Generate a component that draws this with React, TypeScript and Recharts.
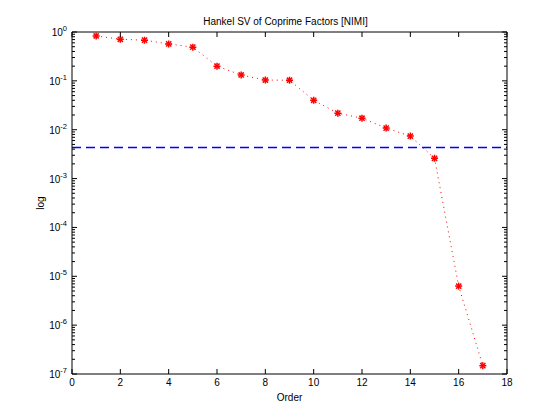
import { LineChart, Line, XAxis, YAxis, ReferenceLine, Label } from 'recharts';

const chartTitle = 'Hankel SV of Coprime Factors [NIMI]';
const orders = [1, 2, 3, 4, 5, 6, 7, 8, 9, 10, 11, 12, 13, 14, 15, 16, 17];
const hankelSV = [
  0.83, 0.71, 0.68, 0.57, 0.49, 0.2, 0.132, 0.104, 0.103, 0.04, 0.0218, 0.0172, 0.0108, 0.0074,
  0.0026, 6.3e-6, 1.48e-7,
];
const threshold = 0.0043;
const xTicks = [0, 2, 4, 6, 8, 10, 12, 14, 16, 18];
const decades = [1e-7, 1e-6, 1e-5, 1e-4, 1e-3, 1e-2, 1e-1, 1];
const minorSteps = [2, 3, 4, 5, 6, 7, 8, 9];

const yTicks: number[] = [];
decades.forEach((d, i) => {
  yTicks.push(d);
  if (i < decades.length - 1) minorSteps.forEach((m) => yTicks.push(d * m));
});

const data = orders.map((o, i) => ({ order: o, sv: hankelSV[i] }));

const FONT = '"Liberation Sans", Arial, Helvetica, sans-serif';
const FS = 10;
const RED = '#ff0000';
const BLUE = '#0000ff';

function isDecade(v: number) {
  const l = Math.log10(v);
  return Math.abs(l - Math.round(l)) < 1e-6;
}

// eslint-disable-next-line @typescript-eslint/no-explicit-any
const LeftTick = (props: any) => {
  const { x, y, payload } = props;
  const v = payload.value;
  const major = isDecade(v);
  const ax = x + 4;
  return (
    <g>
      <line x1={ax} x2={ax + (major ? 5 : 3)} y1={y} y2={y} stroke="#000" />
      {major && (
        <text x={x - 1} y={y + 4} textAnchor="end" fontSize={FS} fontFamily={FONT} fill="#000">
          10
          <tspan dy={-5} fontSize={7.5}>
            {Math.round(Math.log10(v))}
          </tspan>
        </text>
      )}
    </g>
  );
};

// eslint-disable-next-line @typescript-eslint/no-explicit-any
const RightTick = (props: any) => {
  const { x, y, payload } = props;
  const major = isDecade(payload.value);
  return <line x1={x} x2={x - (major ? 5 : 3)} y1={y} y2={y} stroke="#000" />;
};

// eslint-disable-next-line @typescript-eslint/no-explicit-any
const BottomTick = (props: any) => {
  const { x, y, payload } = props;
  return (
    <g>
      <line x1={x} x2={x} y1={y} y2={y - 5} stroke="#000" />
      <text x={x} y={y + 12} textAnchor="middle" fontSize={FS} fontFamily={FONT} fill="#000">
        {payload.value}
      </text>
    </g>
  );
};

// eslint-disable-next-line @typescript-eslint/no-explicit-any
const TopTick = (props: any) => {
  const { x, y } = props;
  return <line x1={x} x2={x} y1={y} y2={y + 5} stroke="#000" />;
};

// eslint-disable-next-line @typescript-eslint/no-explicit-any
const Asterisk = (props: any) => {
  const { cx, cy, index } = props;
  if (cx == null || cy == null) return <g key={index} />;
  const r = 3.5;
  const d = 2.6;
  return (
    <g key={index} stroke={RED} strokeWidth={1.5}>
      <line x1={cx - r} x2={cx + r} y1={cy} y2={cy} />
      <line x1={cx} x2={cx} y1={cy - r} y2={cy + r} />
      <line x1={cx - d} x2={cx + d} y1={cy - d} y2={cy + d} />
      <line x1={cx - d} x2={cx + d} y1={cy + d} y2={cy - d} />
    </g>
  );
};

export default function App() {
  return (
    <div style={{ width: 560, height: 420, background: '#fff' }}>
      <style>{'body{margin:0}'}</style>
      <LineChart
        width={560}
        height={420}
        data={data}
        margin={{ top: 31, right: 52, bottom: 26, left: 32 }}
      >
        <XAxis
          xAxisId="bottom"
          dataKey="order"
          type="number"
          domain={[0, 18]}
          ticks={xTicks}
          interval={0}
          height={20}
          tickSize={0}
          tickMargin={0}
          tickLine={false}
          tick={BottomTick}
          axisLine={{ stroke: '#000' }}
        >
          <Label
            content={({ viewBox }: any) => (
              <text
                x={viewBox.x + viewBox.width / 2}
                y={viewBox.y + 27}
                textAnchor="middle"
                fontSize={FS}
                fontFamily={FONT}
                fill="#000"
              >
                Order
              </text>
            )}
          />
        </XAxis>
        <XAxis
          xAxisId="top"
          orientation="top"
          dataKey="order"
          type="number"
          domain={[0, 18]}
          ticks={xTicks}
          interval={0}
          height={1}
          tickSize={0}
          tickMargin={0}
          tickLine={false}
          tick={TopTick}
          axisLine={{ stroke: '#000' }}
        >
          <Label
            content={({ viewBox }: any) => (
              <text
                x={viewBox.x + viewBox.width / 2 - 4}
                y={viewBox.y - 6}
                textAnchor="middle"
                fontSize={FS}
                fontFamily={FONT}
                fill="#000"
              >
                {chartTitle}
              </text>
            )}
          />
        </XAxis>
        <YAxis
          yAxisId="left"
          scale="log"
          type="number"
          domain={[1e-7, 1]}
          allowDataOverflow
          ticks={yTicks}
          interval={0}
          width={40}
          tickSize={0}
          tickMargin={4}
          tickLine={false}
          tick={LeftTick}
          axisLine={{ stroke: '#000' }}
        >
          <Label
            content={({ viewBox }: any) => {
              const lx = viewBox.x + 12;
              const ly = viewBox.y + viewBox.height / 2;
              return (
                <text
                  x={lx}
                  y={ly}
                  transform={`rotate(-90 ${lx} ${ly})`}
                  textAnchor="middle"
                  fontSize={FS}
                  fontFamily={FONT}
                  fill="#000"
                >
                  log
                </text>
              );
            }}
          />
        </YAxis>
        <YAxis
          yAxisId="right"
          orientation="right"
          scale="log"
          type="number"
          domain={[1e-7, 1]}
          allowDataOverflow
          ticks={yTicks}
          interval={0}
          width={1}
          tickSize={0}
          tickMargin={0}
          tickLine={false}
          tick={RightTick}
          axisLine={{ stroke: '#000' }}
        />
        <ReferenceLine
          xAxisId="bottom"
          yAxisId="left"
          y={threshold}
          stroke={BLUE}
          strokeWidth={1.5}
          strokeDasharray="9 5"
        />
        {/* invisible series so the mirrored top/right axes get drawn */}
        <Line
          xAxisId="top"
          yAxisId="right"
          dataKey="sv"
          stroke="none"
          dot={false}
          activeDot={false}
          legendType="none"
          isAnimationActive={false}
        />
        <Line
          xAxisId="bottom"
          yAxisId="left"
          type="linear"
          dataKey="sv"
          stroke={RED}
          strokeWidth={1}
          strokeDasharray="1 4"
          dot={Asterisk}
          activeDot={false}
          isAnimationActive={false}
        />
      </LineChart>
    </div>
  );
}
